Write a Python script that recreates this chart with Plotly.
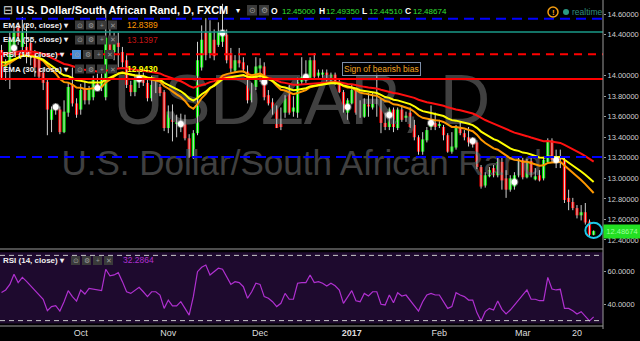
import plotly.graph_objects as go
import pandas as pd

FONT = "Liberation Sans, Arial, sans-serif"

# ---------------- data ----------------
dates = [d for d in pd.bdate_range("2016-09-06", "2017-03-24") if d != pd.Timestamp("2017-01-02")]

opens = [14.25, 14.08, 14.12, 14.27, 14.47, 14.28, 14.28, 14.32, 14.20, 14.18,
         14.03, 13.94, 13.57, 13.71, 13.67, 13.45, 13.64, 13.91, 13.73, 13.67,
         13.88, 13.76, 13.79, 13.92, 13.89, 13.79, 14.35, 14.23, 14.32, 14.23,
         14.15, 13.91, 13.84, 13.96, 13.98, 13.93, 13.78, 13.93, 13.89, 13.84,
         13.49, 13.62, 13.53, 13.50, 13.54, 13.39, 13.21, 13.44, 14.08, 14.42,
         14.22, 14.35, 14.30, 14.33, 14.40, 14.22, 14.05, 14.15, 14.13, 14.04,
         13.76, 13.89, 14.07, 14.09, 13.81, 13.74, 13.69, 13.55, 13.64, 13.83,
         13.65, 13.64, 13.94, 14.01, 13.98, 14.15, 14.00, 14.01, 14.03, 13.96,
         14.01, 13.94, 13.84, 13.64, 13.73, 13.86, 13.65, 13.60, 13.72, 13.69,
         13.76, 13.76, 13.54, 13.50, 13.67, 13.49, 13.67, 13.59, 13.64, 13.52,
         13.40, 13.26, 13.37, 13.50, 13.54, 13.51, 13.50, 13.42, 13.26, 13.30,
         13.49, 13.44, 13.40, 13.36, 13.35, 13.11, 12.93, 13.02, 13.10, 13.03,
         13.16, 13.00, 12.89, 12.92, 13.03, 13.18, 13.01, 13.17, 12.99, 13.03,
         13.00, 13.16, 13.37, 13.18, 13.21, 13.18, 12.81, 12.77, 12.71, 12.64,
         12.67, 12.58, 12.45]
highs = [14.30, 14.16, 14.42, 14.48, 14.52, 14.57, 14.51, 14.36, 14.25, 14.22,
         14.08, 13.97, 13.70, 13.73, 13.70, 13.76, 13.93, 14.08, 13.78, 13.92,
         13.95, 13.90, 14.00, 14.02, 14.02, 14.64, 14.46, 14.42, 14.42, 14.28,
         14.20, 13.95, 14.00, 14.05, 14.03, 13.97, 14.00, 13.97, 13.92, 13.86,
         13.71, 13.72, 13.62, 13.63, 13.62, 13.43, 13.47, 14.33, 14.49, 14.56,
         14.54, 14.45, 14.52, 14.70, 14.45, 14.27, 14.20, 14.27, 14.18, 14.10,
         13.93, 14.18, 14.17, 14.13, 13.86, 13.78, 13.71, 13.69, 13.81, 13.91,
         13.80, 13.98, 14.18, 14.15, 14.18, 14.22, 14.06, 14.06, 14.06, 14.03,
         14.03, 13.96, 13.86, 13.78, 13.91, 13.88, 13.76, 13.78, 13.83, 13.84,
         14.03, 13.78, 13.64, 13.69, 13.69, 13.69, 13.71, 13.65, 13.69, 13.57,
         13.42, 13.45, 13.50, 13.71, 13.64, 13.57, 13.52, 13.44, 13.45, 13.52,
         13.55, 13.47, 13.50, 13.40, 13.37, 13.13, 13.06, 13.11, 13.13, 13.21,
         13.21, 13.08, 13.03, 13.06, 13.20, 13.20, 13.19, 13.20, 13.10, 13.08,
         13.21, 13.39, 13.39, 13.28, 13.28, 13.20, 12.89, 12.81, 12.74, 12.74,
         12.76, 12.60, 12.4935]
lows = [13.96, 13.95, 13.87, 14.20, 14.30, 14.20, 14.12, 14.10, 13.99, 13.96,
        13.86, 13.42, 13.45, 13.62, 13.43, 13.44, 13.60, 13.70, 13.59, 13.62,
        13.72, 13.72, 13.76, 13.85, 13.85, 13.76, 14.18, 14.15, 14.08, 14.08,
        13.88, 13.80, 13.80, 13.88, 13.90, 13.75, 13.75, 13.83, 13.80, 13.46,
        13.44, 13.36, 13.40, 13.45, 13.37, 13.20, 13.19, 13.42, 14.05, 14.15,
        14.17, 14.15, 14.28, 14.28, 14.12, 14.03, 14.03, 14.08, 14.03, 13.73,
        13.74, 13.86, 13.94, 13.76, 13.71, 13.62, 13.49, 13.47, 13.59, 13.62,
        13.60, 13.59, 13.91, 13.93, 13.96, 13.96, 13.98, 13.98, 13.94, 13.94,
        13.91, 13.83, 13.64, 13.57, 13.72, 13.62, 13.59, 13.59, 13.60, 13.67,
        13.60, 13.44, 13.47, 13.47, 13.45, 13.47, 13.55, 13.55, 13.49, 13.37,
        13.23, 13.23, 13.35, 13.47, 13.47, 13.49, 13.37, 13.25, 13.24, 13.28,
        13.42, 13.37, 13.31, 13.30, 13.09, 12.90, 12.91, 13.01, 13.01, 13.01,
        12.89, 12.81, 12.87, 12.89, 13.01, 12.99, 13.00, 13.01, 12.98, 12.97,
        12.98, 13.15, 13.16, 13.10, 13.10, 12.76, 12.69, 12.69, 12.61, 12.59,
        12.55, 12.43, 12.4451]
closes = [13.98, 14.12, 14.35, 14.42, 14.38, 14.42, 14.20, 14.18, 14.08, 13.99,
          13.93, 13.67, 13.67, 13.67, 13.45, 13.65, 13.89, 13.73, 13.62, 13.86,
          13.76, 13.86, 13.96, 13.88, 13.98, 14.37, 14.22, 14.32, 14.28, 14.13,
          13.91, 13.84, 13.96, 13.95, 13.93, 13.78, 13.91, 13.86, 13.83, 13.49,
          13.65, 13.55, 13.57, 13.55, 13.39, 13.21, 13.44, 14.15, 14.35, 14.20,
          14.42, 14.19, 14.43, 14.41, 14.15, 14.07, 14.15, 14.12, 14.06, 13.76,
          13.89, 14.09, 14.10, 13.79, 13.73, 13.67, 13.49, 13.50, 13.78, 13.64,
          13.69, 13.94, 13.99, 13.98, 14.15, 13.99, 14.03, 14.03, 13.96, 14.01,
          13.93, 13.84, 13.65, 13.76, 13.86, 13.64, 13.60, 13.76, 13.70, 13.76,
          13.75, 13.54, 13.50, 13.67, 13.50, 13.67, 13.57, 13.61, 13.50, 13.40,
          13.26, 13.38, 13.47, 13.53, 13.50, 13.52, 13.42, 13.26, 13.31, 13.49,
          13.44, 13.40, 13.35, 13.33, 13.11, 12.92, 13.03, 13.08, 13.03, 13.16,
          12.98, 12.89, 13.00, 13.03, 13.15, 13.01, 13.17, 13.03, 13.02, 12.98,
          13.18, 13.37, 13.18, 13.21, 13.18, 12.79, 12.77, 12.71, 12.64, 12.67,
          12.57, 12.45, 12.48674]
rsi = [47.3, 48.8, 52.2, 58.4, 53.3, 56.5, 54.1, 51.2, 48.8, 45.7,
       43.1, 36.1, 38.6, 39.2, 35.9, 41.6, 48.4, 44.7, 42.0, 48.8,
       46.3, 49.8, 49.2, 48.8, 48.4, 61.5, 57.4, 58.0, 59.4, 53.9,
       47.7, 46.7, 48.8, 50.4, 47.7, 44.7, 47.7, 47.7, 45.7, 37.5,
       42.6, 39.0, 39.0, 41.6, 37.5, 33.4, 44.7, 60.0, 62.7, 64.1,
       58.0, 60.0, 62.1, 61.5, 57.0, 52.2, 53.9, 53.3, 50.8, 43.7,
       47.7, 52.9, 52.2, 44.7, 43.7, 41.6, 38.6, 40.6, 46.7, 43.1,
       43.1, 52.9, 53.3, 53.3, 58.0, 53.3, 53.9, 52.9, 51.2, 52.9,
       51.4, 48.8, 40.6, 44.7, 48.4, 42.2, 41.6, 46.7, 45.1, 47.7,
       47.7, 40.0, 39.6, 45.7, 41.0, 47.1, 45.1, 45.7, 42.6, 39.2,
       35.9, 41.6, 45.7, 46.7, 45.7, 45.7, 41.6, 37.5, 38.6, 47.1,
       45.7, 44.7, 42.6, 42.6, 34.9, 29.8, 35.5, 37.5, 36.5, 42.0,
       36.9, 34.1, 36.5, 39.6, 42.6, 45.7, 48.8, 43.1, 43.1, 42.2,
       42.2, 56.5, 49.4, 48.8, 49.2, 37.5, 37.5, 36.1, 34.1, 35.5,
       32.8, 29.8, 32.29]

dot_idx = [3, 13, 23, 33, 43, 53, 63, 73, 83, 93, 103, 113, 123, 133]
dot_price = [14.27, 13.695, 13.88, 13.968, 13.53, 14.416, 13.939, 13.987,
             13.695, 13.617, 13.539, 13.364, 12.965, 13.179]

ema_seed = {20: 14.10, 30: 14.13, 55: 14.22}

tick_dates = ["2016-10-03", "2016-11-01", "2016-12-01", "2017-01-03",
              "2017-02-01", "2017-03-01", "2017-03-20"]
tick_text = ["Oct", "Nov", "Dec", "<b>2017</b>", "Feb", "Mar", "20"]

price_ticks = [12.4, 12.6, 12.8, 13.0, 13.2, 13.4, 13.6, 13.8, 14.0, 14.4, 14.6]
rsi_ticks = [40, 60]

blue_dashed_levels = [14.555, 13.208]
teal_level = 14.425
red_dashed_level = 14.208
red_solid_level = 13.968

title = "U.S. Dollar/South African Rand, D, FXCM"
ohlc_labels = ["O", "H", "L", "C"]
ohlc_values = ["12.45000", "12.49350", "12.44510", "12.48674"]
legend_rows = ["EMA (20, close)", "EMA (55, close)", "RSI (14, close)", "EMA (30, close)"]
legend_values = ["12.8389", "13.1397", "", "12.9430"]
rsi_label = "RSI (14, close)"
rsi_value = "32.2864"
last_price = "12.48674"
note_text = "Sign of bearish bias"

# ---------------- derived ----------------
n = len(dates)
idx = list(range(n))
date_pos = {d: i for i, d in enumerate(dates)}
tick_vals = [date_pos[pd.Timestamp(d)] for d in tick_dates]


def ema(vals, period, seed):
    k = 2.0 / (period + 1)
    out = [seed]
    for v in vals[1:]:
        out.append(out[-1] + k * (v - out[-1]))
    return out


ema20 = ema(closes, 20, ema_seed[20])
ema30 = ema(closes, 30, ema_seed[30])
ema55 = ema(closes, 55, ema_seed[55])

W, PW, PH = 640, 603, 326
XR = [-0.36, 144.24]
PR = [12.312, 14.737]
RR = [26.7, 73.3]


def X(px):
    return px / PW


def Y(py):
    return (PH - py) / PH


fig = go.Figure()

# watermark (behind the candles)
fig.add_trace(go.Scatter(x=[72], y=[13.695], mode="text", text=["USDZAR, D"],
                         textfont=dict(family=FONT, size=70, color="#404040"),
                         xaxis="x", yaxis="y", hoverinfo="skip"))
fig.add_trace(go.Scatter(x=[72], y=[13.115], mode="text", text=["U.S. Dollar/South African Rand"],
                         textfont=dict(family=FONT, size=35, color="#404040"),
                         xaxis="x", yaxis="y", hoverinfo="skip"))

# wicks
wx, wy = [], []
for i in idx:
    wx += [i, i, None]
    wy += [lows[i], highs[i], None]
fig.add_trace(go.Scatter(x=wx, y=wy, mode="lines", line=dict(color="#d0d0d0", width=1),
                         xaxis="x", yaxis="y", hoverinfo="skip"))

# bodies
base = [min(o, c) for o, c in zip(opens, closes)]
height = [max(abs(c - o), 0.004) for o, c in zip(opens, closes)]
colors = ["#00ee00" if c >= o else "#ff0000" for o, c in zip(opens, closes)]
fig.add_trace(go.Bar(x=idx, y=height, base=base, width=0.76,
                     marker=dict(color=colors, line=dict(width=0)),
                     xaxis="x", yaxis="y", hoverinfo="skip"))

# EMAs
fig.add_trace(go.Scatter(x=idx, y=ema55, mode="lines", line=dict(color="#ff1010", width=2),
                         xaxis="x", yaxis="y", hoverinfo="skip"))
fig.add_trace(go.Scatter(x=idx, y=ema20, mode="lines", line=dict(color="#ff9800", width=2),
                         xaxis="x", yaxis="y", hoverinfo="skip"))
fig.add_trace(go.Scatter(x=idx, y=ema30, mode="lines", line=dict(color="#ffff00", width=2),
                         xaxis="x", yaxis="y", hoverinfo="skip"))

# white dots
fig.add_trace(go.Scatter(x=dot_idx, y=dot_price, mode="markers",
                         marker=dict(color="white", size=6,
                                     line=dict(color="rgba(255,255,255,0.35)", width=2)),
                         xaxis="x", yaxis="y", hoverinfo="skip"))

# RSI
fig.add_trace(go.Scatter(x=idx, y=rsi, mode="lines", line=dict(color="#b030d0", width=1.2),
                         xaxis="x2", yaxis="y2", hoverinfo="skip"))

shapes = []
# RSI background and bands
shapes.append(dict(type="rect", xref="paper", yref="y2", x0=0, x1=1, y0=28.3, y1=71.9,
                   fillcolor="#1e0a2e", line=dict(width=0), layer="below"))
for lv in (70, 30):
    shapes.append(dict(type="line", xref="paper", yref="y2", x0=0, x1=1, y0=lv, y1=lv,
                       line=dict(color="#c8c8c8", width=1, dash="5px,4px")))
# horizontal levels
for lv in blue_dashed_levels:
    shapes.append(dict(type="line", xref="paper", yref="y", x0=0, x1=1, y0=lv, y1=lv,
                       line=dict(color="#0000ff", width=2, dash="10px,6px")))
shapes.append(dict(type="line", xref="paper", yref="y", x0=0, x1=1, y0=teal_level, y1=teal_level,
                   line=dict(color="#1a9a88", width=1.5)))
shapes.append(dict(type="line", xref="paper", yref="y", x0=0, x1=1, y0=red_dashed_level,
                   y1=red_dashed_level, line=dict(color="#ff0000", width=2, dash="8px,6px")))
shapes.append(dict(type="line", xref="paper", yref="y", x0=0, x1=1, y0=red_solid_level,
                   y1=red_solid_level, line=dict(color="#ff0000", width=2)))
# separators / axis lines
shapes.append(dict(type="line", xref="paper", yref="paper", x0=0, x1=1, y0=Y(249), y1=Y(249),
                   line=dict(color="#9a9a9a", width=1)))
shapes.append(dict(type="line", xref="paper", yref="paper", x0=0, x1=1, y0=Y(326), y1=Y(326),
                   line=dict(color="#9a9a9a", width=1)))
shapes.append(dict(type="line", xref="paper", yref="paper", x0=1, x1=1, y0=Y(329), y1=1,
                   line=dict(color="#9a9a9a", width=1)))
# cyan circle on last candle
shapes.append(dict(type="circle", xref="x", yref="y", x0=n - 1 - 2.0, x1=n - 1 + 2.0,
                   y0=12.493 - 0.074, y1=12.493 + 0.074, line=dict(color="#1ec8e8", width=2)))

annotations = []


def note(text, x, y, color="#e8e8e8", size=8, anchor="left", **kw):
    annotations.append(dict(text=text, x=X(x), y=Y(y), xref="paper", yref="paper",
                            xanchor=anchor, yanchor="middle", showarrow=False,
                            font=dict(family=FONT, size=size, color=color), **kw))


def icons(x0, yc, highlight=False):
    glyphs = ["⊙", "⚙", "+", "✕"]
    for k, g in enumerate(glyphs):
        xl = x0 + k * 11
        fill = "#4a8fd8" if (highlight and k == 0) else "#3a3a3a"
        shapes.append(dict(type="rect", xref="paper", yref="paper", x0=X(xl), x1=X(xl + 9),
                           y0=Y(yc + 4.5), y1=Y(yc - 4.5), fillcolor=fill,
                           line=dict(width=0)))
        note(g, xl + 4.5, yc, color="#9a9a9a", size=6.5, anchor="center", borderpad=0)


# header
note("⊟", 1, 10, color="#dddddd", size=12)
note("<b>" + title + "</b>", 14, 10, color="#ffffff", size=11)
note("▾", 234, 10, color="#ffffff", size=8)
for k, g in enumerate(["⊙", "⚙"]):
    xl = 247 + k * 12
    shapes.append(dict(type="rect", xref="paper", yref="paper", x0=X(xl), x1=X(xl + 10),
                       y0=Y(15.5), y1=Y(5), fillcolor="#3a3a3a", line=dict(width=0)))
    note(g, xl + 5, 10.5, color="#9a9a9a", size=8, anchor="center", borderpad=0)
ohlc_x = [(270, 281), (318, 325), (361, 368), (404, 412)]
for (lx, vx), lab, val in zip(ohlc_x, ohlc_labels, ohlc_values):
    note("<b>" + lab + "</b>", lx, 11, color="#ffffff", size=8.5, borderpad=0)
    note(val, vx, 11, color="#33e033", size=8, borderpad=0)

# legend rows
row_y = [25, 40, 54.5, 69]
val_colors = ["#ff9800", "#c81414", "#ffffff", "#ffff00"]
for r, (lab, val, vc, yc) in enumerate(zip(legend_rows, legend_values, val_colors, row_y)):
    note("<b>" + lab + " ▾</b>", 1, yc, color="#f0f0f0", size=8)
    if r == 2:
        icons(72, yc, highlight=True)
    else:
        icons(75, yc)
    if val:
        note("<b>" + val + "</b>" if r == 3 else val, 125, yc, color=vc, size=8.5)

# rsi legend
note("<b>" + rsi_label + " ▾</b>", 1, 260, color="#f0f0f0", size=8)
icons(71, 260.5)
note(rsi_value, 121, 260, color="#b030d0", size=8.5)

# realtime
shapes.append(dict(type="circle", xref="paper", yref="paper", x0=X(548), x1=X(558),
                   y0=Y(17), y1=Y(7), line=dict(color="#f39c12", width=1.5)))
note("<b>!</b>", 553, 12, color="#f39c12", size=8, anchor="center", borderpad=0)
shapes.append(dict(type="circle", xref="paper", yref="paper", x0=X(563), x1=X(569),
                   y0=Y(15), y1=Y(9), fillcolor="#2a9a86", line=dict(width=0)))
note("realtime", 570, 12, color="#2f8f7f", size=8.5)

# bearish note box
note(note_text, 342, 69, color="#f5a623", size=8.5, bordercolor="#7d8ea8", borderwidth=1,
     borderpad=1, bgcolor="rgba(0,0,0,0.7)")

# last price label
annotations.append(dict(text=last_price, x=1, y=12.4867, xref="paper", yref="y",
                        xanchor="left", yanchor="middle", showarrow=False,
                        bgcolor="#22e022", borderpad=2, width=32,
                        font=dict(family=FONT, size=7.5, color="#9dff9d")))

axis_font = dict(family=FONT, size=7.5, color="#d0d0d0")
fig.update_layout(
    width=W, height=341,
    margin=dict(l=0, r=37, t=0, b=15),
    paper_bgcolor="#000000", plot_bgcolor="#000000",
    showlegend=False, hovermode=False, barmode="overlay",
    xaxis=dict(domain=[0, 1], range=XR, anchor="y", showticklabels=False, showgrid=False,
               zeroline=False, showline=False, ticks="", automargin=False),
    xaxis2=dict(domain=[0, 1], range=XR, anchor="y2", matches="x", showgrid=False,
                zeroline=False, showline=False, ticks="", tickvals=tick_vals,
                ticktext=tick_text, tickfont=dict(family=FONT, size=9, color="#dddddd"),
                automargin=False),
    yaxis=dict(domain=[Y(249), 1], range=PR, side="right", showgrid=False, zeroline=False,
               showline=False, tickvals=price_ticks,
               ticktext=["%.5f" % v for v in price_ticks], tickfont=axis_font,
               ticks="outside", ticklen=2, tickcolor="#9a9a9a", automargin=False),
    yaxis2=dict(domain=[0, Y(250)], range=RR, side="right", showgrid=False, zeroline=False,
                showline=False, tickvals=rsi_ticks, ticktext=["%.4f" % v for v in rsi_ticks],
                tickfont=axis_font, ticks="outside", ticklen=2, tickcolor="#9a9a9a",
                automargin=False),
    shapes=shapes,
    annotations=annotations,
)

fig.write_html("out.html", config={"displayModeBar": False})
